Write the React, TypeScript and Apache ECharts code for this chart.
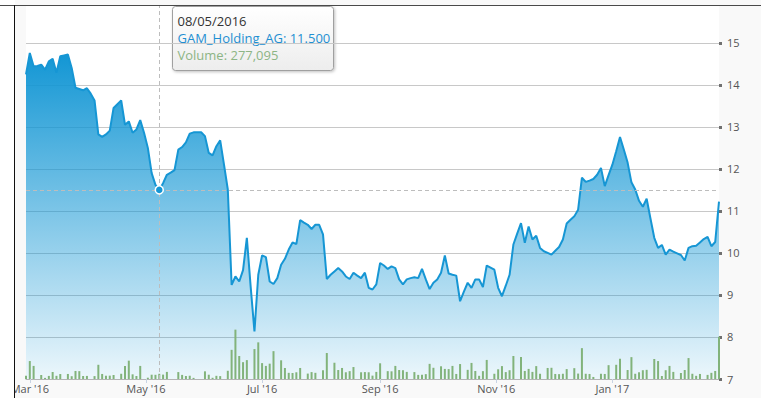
import React, { useEffect, useRef } from "react";
import * as echarts from "echarts";

const SERIES_NAME = "GAM_Holding_AG";
const VOLUME_NAME = "Volume";
// Quotes sampled every 2 calendar days, starting 28 Feb 2016
const START_DATE = "2016-02-28";
const STEP_DAYS = 2;

const CLOSE = [
  14.25, 14.76, 14.44, 14.45, 14.48, 14.36, 14.56, 14.62, 14.29, 14.68,
  14.70, 14.72, 14.40, 13.93, 13.90, 13.87, 13.92, 13.79, 13.63, 12.82,
  12.76, 12.82, 12.91, 13.45, 13.54, 13.63, 13.05, 13.13, 12.86, 12.94,
  13.16, 12.86, 12.50, 11.90, 11.62, 11.50, 11.66, 11.86, 11.91, 11.97,
  12.46, 12.52, 12.63, 12.84, 12.87, 12.87, 12.87, 12.78, 12.38, 12.32,
  12.54, 12.68, 12.10, 11.51, 9.24, 9.44, 9.32, 9.59, 10.36, 9.20,
  8.13, 9.48, 9.94, 9.90, 9.32, 9.26, 9.40, 9.72, 9.86, 10.08,
  10.25, 10.21, 10.78, 10.72, 10.67, 10.57, 10.67, 10.67, 10.44, 9.38,
  9.48, 9.56, 9.64, 9.56, 9.44, 9.38, 9.53, 9.46, 9.40, 9.53,
  9.17, 9.13, 9.25, 9.76, 9.70, 9.62, 9.68, 9.64, 9.37, 9.25,
  9.37, 9.40, 9.42, 9.40, 9.62, 9.37, 9.14, 9.29, 9.37, 9.53,
  9.94, 9.51, 9.48, 9.46, 8.85, 9.08, 9.29, 9.17, 9.37, 9.37,
  9.19, 9.70, 9.65, 9.60, 9.17, 8.97, 9.22, 9.48, 10.20, 10.46,
  10.71, 10.24, 10.63, 10.32, 10.41, 10.12, 10.04, 10.00, 9.96, 10.05,
  10.14, 10.32, 10.70, 10.79, 10.87, 11.03, 11.79, 11.69, 11.72, 11.76,
  11.86, 12.02, 11.59, 11.85, 12.10, 12.42, 12.76, 12.46, 12.15, 11.68,
  11.51, 11.24, 11.10, 11.29, 10.82, 10.36, 10.12, 10.19, 9.96, 10.08,
  10.03, 9.99, 9.95, 9.82, 10.12, 10.16, 10.17, 10.25, 10.33, 10.38,
  10.16, 10.26, 11.22,
];

const VOLUME = [
  180000, 960000, 700000, 0, 215000, 60000, 165000, 375000, 170000, 265000,
  0, 270000, 150000, 430000, 420000, 160000, 165000, 0, 155000, 760000,
  270000, 175000, 180000, 215000, 0, 280000, 690000, 980000, 250000, 160000,
  700000, 0, 70000, 230000, 225000, 277095, 235000, 380000, 0, 0,
  370000, 220000, 160000, 175000, 60000, 0, 0, 410000, 230000, 65000,
  170000, 155000, 0, 440000, 1560000, 2640000, 1230000, 900000, 1010000, 0,
  1600000, 1960000, 850000, 700000, 820000, 1490000, 0, 1000000, 590000, 330000,
  320000, 360000, 590000, 0, 290000, 370000, 330000, 0, 470000, 1390000,
  0, 870000, 480000, 590000, 360000, 420000, 640000, 0, 360000, 370000,
  360000, 180000, 380000, 840000, 0, 420000, 410000, 700000, 480000, 470000,
  380000, 0, 370000, 220000, 230000, 260000, 810000, 600000, 0, 680000,
  540000, 530000, 700000, 270000, 800000, 0, 490000, 860000, 430000, 170000,
  420000, 1020000, 0, 280000, 520000, 690000, 370000, 470000, 1230000, 0,
  1180000, 430000, 540000, 380000, 690000, 280000, 0, 590000, 600000, 270000,
  260000, 280000, 530000, 0, 580000, 290000, 1650000, 280000, 270000, 110000,
  0, 280000, 270000, 740000, 0, 760000, 1080000, 0, 480000, 1170000,
  280000, 360000, 470000, 490000, 0, 1070000, 960000, 160000, 470000, 700000,
  380000, 0, 320000, 480000, 1120000, 280000, 170000, 270000, 0, 220000,
  330000, 430000, 2260000,
];

const X_TICKS = ["2016-03-01", "2016-05-01", "2016-07-01", "2016-09-01", "2016-11-01", "2017-01-01"];
const Y_MIN = 7;
const Y_MAX = 15.9;
const Y_INTERVAL = 1;
const VOLUME_AXIS_MAX = 20000000;
const TOOLTIP_INDEX = 35;
const MONTHS = ["Jan", "Feb", "Mar", "Apr", "May", "Jun", "Jul", "Aug", "Sep", "Oct", "Nov", "Dec"];

function parseLocal(s: string): Date {
  const [y, m, d] = s.split("-").map(Number);
  return new Date(y, m - 1, d);
}

const START = parseLocal(START_DATE);
const DATES = CLOSE.map((_, i) =>
  new Date(START.getFullYear(), START.getMonth(), START.getDate() + i * STEP_DAYS).getTime()
);
const X_TICK_VALUES = X_TICKS.map((s) => parseLocal(s).getTime());

const FONT = "'Open Sans', 'DejaVu Sans', sans-serif";
const LINE_COLOR = "#1696d4";
const BAR_COLOR = "#82b37b";

function pad(n: number) {
  return n < 10 ? "0" + n : "" + n;
}

export default function App() {
  const ref = useRef<HTMLDivElement>(null);

  useEffect(() => {
    if (!ref.current) return;
    const chart = echarts.init(ref.current, null, { renderer: "svg" });

    const tipDate = new Date(DATES[TOOLTIP_INDEX]);
    const tipDateText = `${pad(tipDate.getDate())}/${pad(tipDate.getMonth() + 1)}/${tipDate.getFullYear()}`;
    const tipValueText = `${SERIES_NAME}: ${CLOSE[TOOLTIP_INDEX].toFixed(3)}`;
    const tipVolText = `${VOLUME_NAME}: ${VOLUME[TOOLTIP_INDEX].toLocaleString("en-US")}`;

    chart.setOption({
      animation: false,
      tooltip: { show: false },
      grid: {
        left: 11,
        right: 42,
        top: 5,
        bottom: 19,
        containLabel: false,
        outerBoundsMode: "none",
        show: true,
        backgroundColor: "#ffffff",
        borderWidth: 0,
      },
      xAxis: {
        type: "value",
        min: DATES[0],
        max: DATES[DATES.length - 1],
        axisLine: { show: true, lineStyle: { color: "#b4b4b4", width: 1 } },
        axisTick: {
          show: true,
          customValues: X_TICK_VALUES,
          length: 4,
          lineStyle: { color: "#c7d3e3" },
        },
        axisLabel: {
          customValues: X_TICK_VALUES,
          formatter: (v: number) => {
            const d = new Date(v);
            return `${MONTHS[d.getMonth()]} '${String(d.getFullYear()).slice(2)}`;
          },
          color: "#555",
          fontSize: 11,
          fontFamily: FONT,
          margin: 4,
          hideOverlap: false,
        },
        splitLine: { show: false },
      },
      yAxis: [
        {
          type: "value",
          position: "right",
          min: Y_MIN,
          max: Y_MAX,
          interval: Y_INTERVAL,
          axisLine: { show: false },
          axisTick: { show: true, length: 3, lineStyle: { color: "#707070", width: 3 } },
          axisLabel: {
            color: "#555",
            fontSize: 11,
            fontFamily: FONT,
            margin: 8,
            showMaxLabel: false,
          },
          splitLine: { show: true, lineStyle: { color: "#c8c8c8", width: 1 } },
        },
        {
          type: "value",
          min: 0,
          max: VOLUME_AXIS_MAX,
          show: false,
          splitLine: { show: false },
        },
      ],
      series: [
        {
          name: SERIES_NAME,
          type: "line",
          yAxisIndex: 0,
          data: DATES.map((d, i) => [d, CLOSE[i]]),
          showSymbol: false,
          symbol: "none",
          lineStyle: { color: LINE_COLOR, width: 2 },
          itemStyle: { color: LINE_COLOR },
          areaStyle: {
            origin: "start",
            opacity: 1,
            color: new echarts.graphic.LinearGradient(0, 0, 0, 1, [
              { offset: 0, color: "rgba(18,150,212,1)" },
              { offset: 1, color: "rgba(18,150,212,0.08)" },
            ]),
          },
          z: 2,
          markLine: {
            silent: true,
            symbol: ["none", "none"],
            lineStyle: { color: "#bdbdbd", width: 1, type: [4, 3] },
            label: { show: false },
            data: [{ xAxis: DATES[TOOLTIP_INDEX] }, { yAxis: CLOSE[TOOLTIP_INDEX] }],
          },
          markPoint: {
            silent: true,
            symbol: "circle",
            symbolSize: 8,
            itemStyle: { color: LINE_COLOR, borderColor: "#ffffff", borderWidth: 1.5 },
            label: { show: false },
            data: [{ coord: [DATES[TOOLTIP_INDEX], CLOSE[TOOLTIP_INDEX]] }],
          },
        },
        {
          name: VOLUME_NAME,
          type: "bar",
          yAxisIndex: 1,
          data: DATES.map((d, i) => [d, VOLUME[i]]),
          barWidth: 2,
          clip: false,
          itemStyle: { color: BAR_COLOR },
          z: 3,
        },
      ],
      graphic: [
        {
          type: "group",
          left: 157,
          top: 6,
          z: 100,
          children: [
            {
              type: "rect",
              shape: { x: 0, y: 0, width: 161, height: 64, r: 3 },
              style: {
                fill: new echarts.graphic.LinearGradient(0, 0, 0, 1, [
                  { offset: 0, color: "#ffffff" },
                  { offset: 1, color: "#ededed" },
                ]),
                stroke: "#a0a0a0",
                lineWidth: 1,
                shadowBlur: 3,
                shadowColor: "rgba(0,0,0,0.25)",
                shadowOffsetX: 1,
                shadowOffsetY: 1,
              },
            },
            {
              type: "text",
              x: 5,
              y: 14,
              style: {
                text: tipDateText,
                fill: "#333333",
                font: `13px ${FONT}`,
                verticalAlign: "middle",
              },
            },
            {
              type: "text",
              x: 5,
              y: 31,
              style: {
                text: tipValueText,
                fill: "#1e8fd2",
                font: `13px ${FONT}`,
                verticalAlign: "middle",
              },
            },
            {
              type: "text",
              x: 5,
              y: 48,
              style: {
                text: tipVolText,
                fill: "#8db585",
                font: `13px ${FONT}`,
                verticalAlign: "middle",
              },
            },
          ],
        },
      ],
    });

    return () => chart.dispose();
  }, []);

  return (
    <div
      style={{
        position: "fixed",
        left: 0,
        top: 0,
        width: 761,
        height: 398,
        background: "#ffffff",
        overflow: "hidden",
      }}
    >
      <div
        ref={ref}
        style={{
          position: "absolute",
          left: 15,
          top: 0,
          width: 746,
          height: 398,
          background: "#f9f9f9",
          overflow: "hidden",
        }}
      />
      <div
        style={{ position: "absolute", left: 0, top: 5, width: 761, height: 1, background: "#4a4a4a" }}
      />
      <div
        style={{ position: "absolute", left: 14, top: 5, width: 1, height: 393, background: "#111111" }}
      />
    </div>
  );
}
